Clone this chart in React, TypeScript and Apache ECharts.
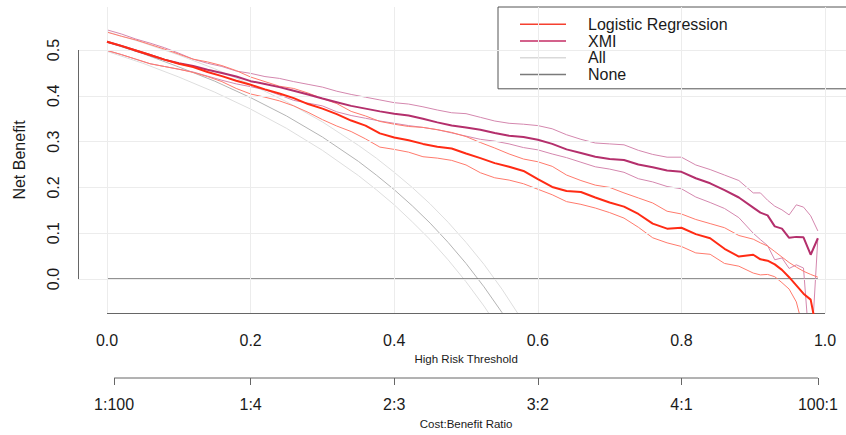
import React, { useEffect, useRef } from "react";
import * as echarts from "echarts";

// High-risk thresholds at which net benefit was evaluated
const thresholds = [
  0, 0.02, 0.04, 0.06, 0.08, 0.1, 0.12, 0.14, 0.16, 0.18, 0.2, 0.22, 0.24, 0.26, 0.28, 0.3,
  0.32, 0.34, 0.36, 0.38, 0.4, 0.42, 0.44, 0.46, 0.48, 0.5, 0.52, 0.54, 0.56, 0.58, 0.6,
  0.62, 0.64, 0.66, 0.68, 0.7, 0.72, 0.74, 0.76, 0.78, 0.8, 0.82, 0.84, 0.86, 0.88,
  0.9, 0.91, 0.92, 0.93, 0.94, 0.95, 0.96, 0.97, 0.98, 0.99,
];

// Logistic Regression: net benefit with bootstrap confidence bounds
const lrNet = [
  0.518, 0.509, 0.499, 0.489, 0.479, 0.47, 0.463, 0.452, 0.443, 0.433, 0.424, 0.414, 0.405, 0.395, 0.382, 0.372,
  0.36, 0.346, 0.335, 0.318, 0.309, 0.303, 0.295, 0.289, 0.285, 0.274, 0.264, 0.253, 0.245, 0.236, 0.218,
  0.201, 0.192, 0.19, 0.178, 0.167, 0.158, 0.142, 0.121, 0.11, 0.112, 0.098, 0.089, 0.066, 0.049,
  0.053, 0.043, 0.04, 0.032, 0.02, 0.004, -0.014, -0.032, -0.045, -0.125,
];
const lrUpper = [
  0.539, 0.53, 0.522, 0.512, 0.502, 0.491, 0.48, 0.474, 0.466, 0.455, 0.441, 0.431, 0.421, 0.416, 0.406, 0.394,
  0.383, 0.366, 0.356, 0.344, 0.338, 0.333, 0.331, 0.326, 0.32, 0.311, 0.298, 0.286, 0.273, 0.262, 0.256,
  0.246, 0.227, 0.215, 0.205, 0.2, 0.188, 0.177, 0.166, 0.148, 0.142, 0.13, 0.121, 0.112, 0.095,
  0.087, 0.079, 0.072, 0.06, 0.048, 0.036, 0.026, 0.017, 0.01, 0.004,
];
const lrLower = [
  0.499, 0.49, 0.48, 0.47, 0.464, 0.458, 0.451, 0.442, 0.431, 0.416, 0.404, 0.397, 0.389, 0.378, 0.364, 0.348,
  0.334, 0.322, 0.306, 0.288, 0.283, 0.277, 0.267, 0.264, 0.259, 0.249, 0.232, 0.221, 0.216, 0.208, 0.196,
  0.184, 0.169, 0.163, 0.155, 0.145, 0.133, 0.113, 0.09, 0.079, 0.071, 0.057, 0.054, 0.034, 0.028,
  0.013, 0.009, 0.01, 0.005, -0.008, -0.022, -0.05, -0.11, -0.2, -0.33,
];

// XMI: net benefit with bootstrap confidence bounds
const xmiNet = [
  0.518, 0.509, 0.499, 0.489, 0.479, 0.471, 0.465, 0.457, 0.45, 0.442, 0.432, 0.426, 0.419, 0.411, 0.403, 0.394,
  0.386, 0.378, 0.372, 0.366, 0.361, 0.357, 0.35, 0.342, 0.335, 0.331, 0.326, 0.319, 0.313, 0.31, 0.304,
  0.295, 0.283, 0.275, 0.267, 0.262, 0.26, 0.25, 0.244, 0.237, 0.234, 0.22, 0.209, 0.194, 0.178,
  0.156, 0.145, 0.139, 0.115, 0.11, 0.09, 0.092, 0.091, 0.053, 0.089,
];
const xmiUpper = [
  0.544, 0.535, 0.524, 0.515, 0.505, 0.493, 0.48, 0.471, 0.464, 0.454, 0.449, 0.442, 0.438, 0.431, 0.425, 0.419,
  0.41, 0.403, 0.397, 0.391, 0.385, 0.382, 0.376, 0.369, 0.363, 0.361, 0.353, 0.345, 0.34, 0.338, 0.335,
  0.328, 0.315, 0.305, 0.297, 0.295, 0.293, 0.281, 0.272, 0.266, 0.266, 0.249, 0.239, 0.227, 0.215,
  0.188, 0.188, 0.172, 0.159, 0.151, 0.14, 0.162, 0.157, 0.138, 0.105,
];
const xmiLower = [
  0.499, 0.49, 0.48, 0.47, 0.464, 0.458, 0.452, 0.443, 0.434, 0.426, 0.42, 0.413, 0.402, 0.39, 0.384, 0.378,
  0.365, 0.357, 0.351, 0.345, 0.34, 0.335, 0.331, 0.326, 0.319, 0.312, 0.305, 0.301, 0.295, 0.287, 0.282,
  0.273, 0.265, 0.255, 0.245, 0.24, 0.233, 0.219, 0.212, 0.202, 0.197, 0.179, 0.167, 0.154, 0.134,
  0.1, 0.086, 0.073, 0.042, 0.046, 0.023, 0.031, 0.024, -0.18, 0.089,
];

// Treat-all strategy
const allThresholds = [
  0, 0.05, 0.1, 0.15, 0.2, 0.25, 0.3, 0.35, 0.375, 0.4, 0.425, 0.45, 0.475, 0.5, 0.525, 0.55, 0.575, 0.6,
];
const allNet = [
  0.517, 0.492, 0.463, 0.432, 0.396, 0.356, 0.31, 0.257, 0.227, 0.195, 0.16, 0.122, 0.08, 0.034, -0.017, -0.073, -0.137, -0.208,
];
const allUpper = [
  0.54, 0.516, 0.489, 0.459, 0.425, 0.387, 0.343, 0.292, 0.264, 0.233, 0.2, 0.164, 0.124, 0.08, 0.032, -0.022, -0.082, -0.15,
];
const allLower = [
  0.497, 0.471, 0.441, 0.408, 0.371, 0.329, 0.281, 0.226, 0.195, 0.162, 0.125, 0.086, 0.042, -0.006, -0.059, -0.118, -0.183, -0.258,
];

// Treat-none strategy
const noneThresholds = [0, 0.99];
const noneNet = [0, 0];

// Axis ticks
const thresholdTicks = [0, 0.2, 0.4, 0.6, 0.8, 1.0];
const netBenefitTicks = [0, 0.1, 0.2, 0.3, 0.4, 0.5];
const costBenefitTicks = [1 / 101, 0.2, 0.4, 0.6, 0.8, 100 / 101];
const costBenefitLabels = ["1:100", "1:4", "2:3", "3:2", "4:1", "100:1"];

// Plot region runs 4% past [0, 1]; the right part is cut at the page edge
const X_MIN = -0.04;
const X_MAX = 1.0292;
const Y_MIN = -0.0742;
const Y_MAX = 0.5939;

const FONT = "'Liberation Sans', Arial, Helvetica, sans-serif";
const TEXT = "#1a1a1a";
const AXIS = "#666666";
const GRID = "#ececec";

const LR_MAIN = "#ff2b14";
const LR_CI = "#ff7a6c";
const XMI_MAIN = "#b42f6c";
const XMI_CI = "#d487ae";
const ALL_MAIN = "#b4b4b4";
const ALL_CI = "#dedede";
const NONE_COL = "#6e6e6e";

const toPairs = (xs: number[], ys: number[]) => xs.map((x, i) => [x, ys[i]]);

const curve = (name: string, xs: number[], ys: number[], color: string, width: number, z: number) => ({
  name,
  type: "line",
  xAxisIndex: 0,
  yAxisIndex: 0,
  data: toPairs(xs, ys),
  showSymbol: false,
  symbol: "none",
  z,
  lineStyle: { color, width },
  itemStyle: { color },
  emphasis: { disabled: true },
});

export default function App() {
  const ref = useRef<HTMLDivElement>(null);

  useEffect(() => {
    if (!ref.current) return;
    const chart = echarts.init(ref.current, undefined, { renderer: "svg" });

    const gridLines = [
      ...thresholdTicks.map((v) => ({ xAxis: v })),
      ...netBenefitTicks.map((v) => ({ yAxis: v })),
    ];

    const option = {
      animation: false,
      backgroundColor: "#ffffff",
      textStyle: { fontFamily: FONT },
      grid: [
        { left: 78.3, right: 0, top: 7, bottom: 122 },
        { left: 78.3, right: 0, top: 377, height: 1 },
      ],
      legend: {
        orient: "vertical",
        left: 498,
        top: 7,
        padding: [9, 140, 6, 22],
        itemGap: 0,
        itemWidth: 46,
        itemHeight: 1.5,
        icon: "rect",
        borderColor: "#555555",
        borderWidth: 1,
        backgroundColor: "#ffffff",
        selectedMode: false,
        textStyle: { fontSize: 16, color: TEXT, fontFamily: FONT, lineHeight: 16.7, padding: [0, 0, 0, 17] },
        data: [
          { name: "Logistic Regression", itemStyle: { color: "#f5402f" } },
          { name: "XMI", itemStyle: { color: "#c42d64" } },
          { name: "All", itemStyle: { color: "#d9d9d9" } },
          { name: "None", itemStyle: { color: "#7a7a7a" } },
        ],
      },
      xAxis: [
        {
          type: "value",
          gridIndex: 0,
          min: X_MIN,
          max: X_MAX,
          axisLine: { show: false },
          splitLine: { show: false },
          axisTick: { show: true, customValues: thresholdTicks, length: 7, lineStyle: { color: AXIS } },
          axisLabel: {
            customValues: thresholdTicks,
            formatter: (v: number) => v.toFixed(1),
            fontSize: 16,
            color: TEXT,
            fontFamily: FONT,
            margin: 19,
          },
          name: "High Risk Threshold",
          nameLocation: "middle",
          nameGap: 38,
          nameTextStyle: { fontSize: 11.5, color: TEXT, fontFamily: FONT, padding: [0, 0, 0, 8] },
        },
        {
          type: "value",
          gridIndex: 1,
          min: X_MIN,
          max: X_MAX,
          axisLine: { show: false },
          splitLine: { show: false },
          axisTick: { show: true, customValues: costBenefitTicks, length: 7, lineStyle: { color: AXIS } },
          axisLabel: {
            customValues: costBenefitTicks,
            formatter: (v: number) => {
              let best = 0;
              costBenefitTicks.forEach((t, i) => {
                if (Math.abs(t - v) < Math.abs(costBenefitTicks[best] - v)) best = i;
              });
              return costBenefitLabels[best];
            },
            fontSize: 16,
            color: TEXT,
            fontFamily: FONT,
            margin: 18,
          },
          name: "Cost:Benefit Ratio",
          nameLocation: "middle",
          nameGap: 40,
          nameTextStyle: { fontSize: 11.5, color: TEXT, fontFamily: FONT, padding: [0, 0, 0, 8] },
        },
      ],
      yAxis: [
        {
          type: "value",
          gridIndex: 0,
          min: Y_MIN,
          max: Y_MAX,
          axisLine: { show: false },
          splitLine: { show: false },
          axisTick: { show: true, customValues: netBenefitTicks, length: 7, lineStyle: { color: AXIS } },
          axisLabel: {
            customValues: netBenefitTicks,
            formatter: (v: number) => v.toFixed(1),
            rotate: 90,
            fontSize: 16,
            color: TEXT,
            fontFamily: FONT,
            margin: 17,
          },
          name: "Net Benefit",
          nameLocation: "middle",
          nameRotate: 90,
          nameGap: 51,
          nameTextStyle: { fontSize: 16, color: TEXT, fontFamily: FONT },
        },
        { type: "value", gridIndex: 1, min: 0, max: 1, show: false },
      ],
      series: [
        {
          name: "grid lines",
          type: "line",
          xAxisIndex: 0,
          yAxisIndex: 0,
          data: [],
          showSymbol: false,
          z: 1,
          silent: true,
          markLine: {
            silent: true,
            symbol: ["none", "none"],
            label: { show: false },
            lineStyle: { color: GRID, width: 1, type: "solid" },
            emphasis: { disabled: true },
            data: gridLines,
          },
        },
        curve("All upper", allThresholds, allUpper, ALL_CI, 1, 2),
        curve("All lower", allThresholds, allLower, ALL_CI, 1, 2),
        curve("All", allThresholds, allNet, ALL_MAIN, 1, 2),
        curve("None", noneThresholds, noneNet, NONE_COL, 1.3, 3),
        curve("XMI upper", thresholds, xmiUpper, XMI_CI, 1, 4),
        curve("XMI lower", thresholds, xmiLower, XMI_CI, 1, 4),
        curve("Logistic Regression upper", thresholds, lrUpper, LR_CI, 1, 4),
        curve("Logistic Regression lower", thresholds, lrLower, LR_CI, 1, 4),
        curve("XMI", thresholds, xmiNet, XMI_MAIN, 2, 5),
        curve("Logistic Regression", thresholds, lrNet, LR_MAIN, 2, 6),
        {
          name: "axis lines",
          type: "line",
          xAxisIndex: 0,
          yAxisIndex: 0,
          data: [],
          showSymbol: false,
          z: 7,
          silent: true,
          markLine: {
            silent: true,
            symbol: ["none", "none"],
            label: { show: false },
            lineStyle: { color: AXIS, width: 1, type: "solid" },
            emphasis: { disabled: true },
            data: [
              [{ coord: [X_MIN, netBenefitTicks[0]] }, { coord: [X_MIN, netBenefitTicks[netBenefitTicks.length - 1]] }],
              [{ coord: [thresholdTicks[0], Y_MIN] }, { coord: [thresholdTicks[thresholdTicks.length - 1], Y_MIN] }],
            ],
          },
        },
        {
          name: "cost benefit axis",
          type: "line",
          xAxisIndex: 1,
          yAxisIndex: 1,
          data: [
            [costBenefitTicks[0], 0],
            [costBenefitTicks[costBenefitTicks.length - 1], 0],
          ],
          showSymbol: false,
          symbol: "none",
          clip: false,
          silent: true,
          lineStyle: { color: AXIS, width: 1 },
        },
      ],
    };

    chart.setOption(option as any);
    return () => chart.dispose();
  }, []);

  return (
    <div
      ref={ref}
      style={{ position: "fixed", left: 0, top: 0, width: 846, height: 435, background: "#ffffff" }}
    />
  );
}
